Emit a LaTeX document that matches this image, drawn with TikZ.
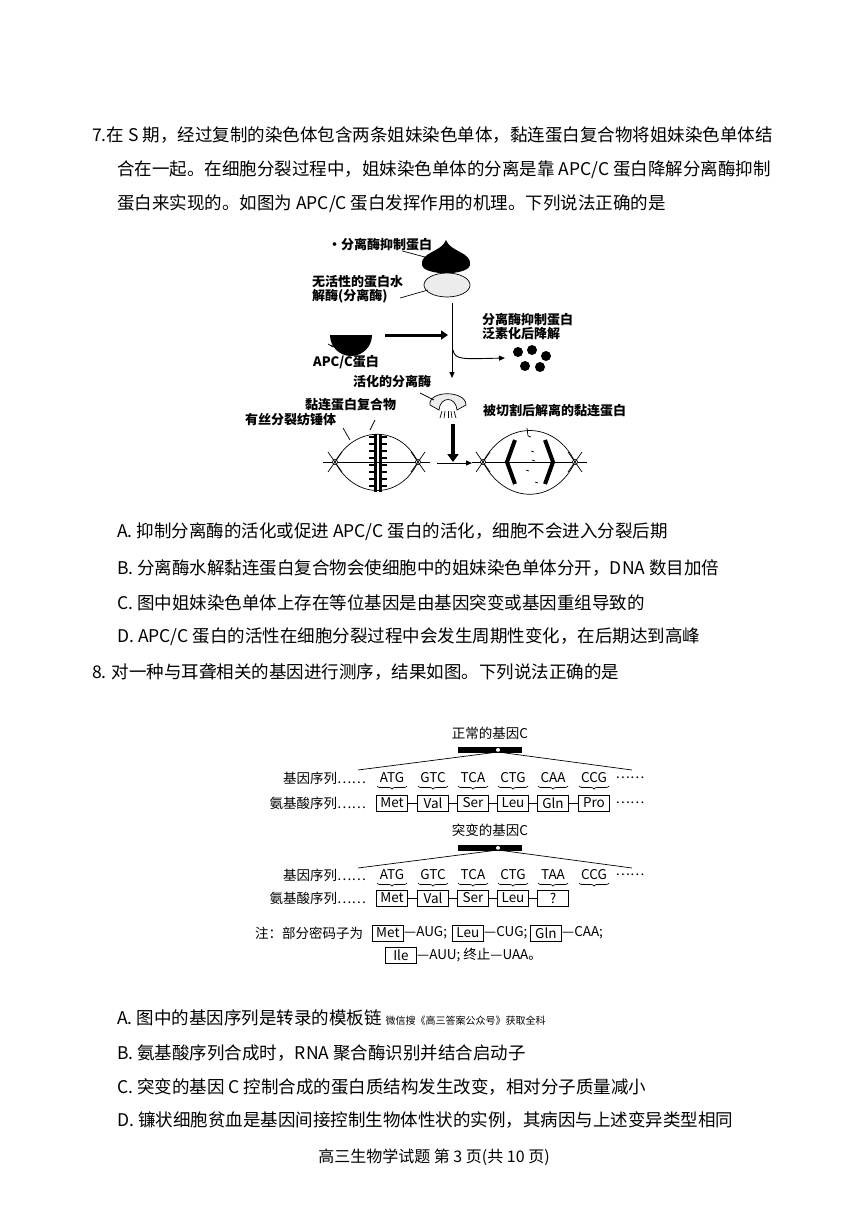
\documentclass[tikz,border=0pt]{standalone}
\usepackage{fontspec}
\setmainfont{Noto Sans CJK SC}
\usetikzlibrary{decorations.pathreplacing,arrows.meta}
\begin{document}
\begin{tikzpicture}[x=1pt,y=-1pt,
 body/.style={anchor=west,inner sep=0pt,font=\fontsize{17.5}{18}\selectfont},
 lbl/.style={inner sep=0pt,font=\fontsize{13}{14}\selectfont\bfseries},
 dlbl/.style={inner sep=0pt,font=\fontsize{13.5}{14}\selectfont},
 aa/.style={draw,line width=0.8pt,minimum width=31pt,minimum height=16pt,inner sep=0pt,font=\fontsize{13.5}{14}\selectfont},
 cod/.style={inner sep=0pt,font=\fontsize{13.5}{14}\selectfont},
 br/.style={decorate,decoration={brace,mirror,amplitude=3pt}},
 thin/.style={line width=0.7pt},
 fat/.style={line width=3pt,-{Triangle[length=7pt,width=9pt]}},
 arr/.style={line width=0.9pt,-{Triangle[length=6pt,width=5pt]}}]
\useasboundingbox (0,0) rectangle (868,1227);
\fill[white] (0,0) rectangle (868,1227);
% question 7
\node[body] (q1) at (92,135) {7.在 S 期，经过复制的染色体包含两条姐妹染色单体，黏连蛋白复合物将姐妹染色单体结};
\node[body] (q2) at (117,170) {合在一起。在细胞分裂过程中，姐妹染色单体的分离是靠 APC/C 蛋白降解分离酶抑制};
\node[body] (q3) at (117,204) {蛋白来实现的。如图为 APC/C 蛋白发挥作用的机理。下列说法正确的是};
% diagram 1
\node[lbl,anchor=west] (l1) at (328,245) {·分离酶抑制蛋白};
\fill (446,240) .. controls (450,252) and (472,252) .. (470,265) .. controls (468,276) and (424,276) .. (422,265) .. controls (420,252) and (442,252) .. (446,240) -- cycle;
\draw[thin,fill=gray!15] (447,285) ellipse (23pt and 12pt);
\coordinate (inh) at (436,260);
\draw[thin] (l1.east) ++(-30,6) -- (inh);
\node[lbl,align=left,anchor=west] (l2) at (312,289) {无活性的蛋白水\\解酶(分离酶)};
\draw[thin] (400,298) -- (428,290);
\fill (330,335) arc[start angle=180,end angle=0,radius=21] -- cycle;
\fill (330,335) .. controls (335,346) and (366,346) .. (372,335);
\foreach \i in {0,1,2,3}{\draw[thin] (328+\i*3,344+\i) -- (333+\i*3,347+\i);}
\node[lbl,anchor=west] (l3) at (313,362) {APC/C蛋白};
\draw[fat] (385,335) -- (448,335);
\draw[arr] (452,303) -- (452,378);
\draw[arr] (453,350) .. controls (455,360) and (462,359) .. (505,358);
\foreach \p in {(518,352),(532,350),(546,356),(525,366),(540,367)}{\fill \p circle (5pt);}
\node[lbl,align=left,anchor=west] (l4) at (482,327) {分离酶抑制蛋白\\泛素化后降解};
\node[lbl,anchor=west] (l5) at (353,382) {活化的分离酶};
\draw[thin,fill=gray!15] (430,405) .. controls (428,390) and (466,390) .. (466,405) -- (457,410) .. controls (456,396) and (440,396) .. (439,410) -- cycle;
\foreach \i in {-2,...,2}{\draw[thin] (448+\i*3,411) -- (448+\i*4,418);}
\draw[thin] (420,393) -- (434,400);
\node[lbl,anchor=west] (l6) at (305,405) {黏连蛋白复合物};
\node[lbl,anchor=west] (l7) at (245,420) {有丝分裂纺锤体};
\node[lbl,anchor=west] (l8) at (483,411) {被切割后解离的黏连蛋白};
\draw[line width=4pt,-{Triangle[length=8pt,width=11pt]}] (453,424) -- (453,462);
% spindle 1
\draw[thin] (335,462) .. controls (355,425) and (400,425) .. (418,462) .. controls (400,500) and (355,500) .. (335,462);
\draw[thin] (323,462) -- (430,462);
\foreach \x in {335,418}{\draw[thin,fill=white] (\x,462) circle (2.5pt); \draw[thin] (\x-7,452)--(\x+7,472) (\x-7,472)--(\x+7,452);}
\fill (374,434) rectangle (377,492); \fill (379,434) rectangle (382,492);
\foreach \y in {437,444,...,490}{\draw[line width=1.4pt] (369,\y)--(374,\y) (382,\y)--(387,\y);}
\draw[thin] (370,430) -- (375,420);
\draw[thin] (343,428) -- (350,440);
\draw[arr] (437,463) -- (472,463);
% spindle 2
\draw[thin] (483,462) .. controls (505,420) and (555,420) .. (575,462) .. controls (555,505) and (505,505) .. (483,462);
\draw[thin] (472,462) -- (587,462);
\foreach \x in {483,575}{\draw[thin,fill=white] (\x,462) circle (2.5pt); \draw[thin] (\x-7,452)--(\x+7,472) (\x-7,472)--(\x+7,452);}
\draw[line width=4pt] (515,440) -- (507,462) -- (515,484);
\draw[line width=4pt] (545,440) -- (553,462) -- (545,484);
\foreach \p in {(528,436),(531,451),(526,470),(535,482),(532,460)}{\draw[thin] \p -- ++(3,1);}
\draw[thin] (527,428) -- (528,436);
% options
\node[body] (o1) at (117,532) {A. 抑制分离酶的活化或促进 APC/C 蛋白的活化，细胞不会进入分裂后期};
\node[body] (o2) at (117,568) {B. 分离酶水解黏连蛋白复合物会使细胞中的姐妹染色单体分开，DNA 数目加倍};
\node[body] (o3) at (117,603) {C. 图中姐妹染色单体上存在等位基因是由基因突变或基因重组导致的};
\node[body] (o4) at (117,637) {D. APC/C 蛋白的活性在细胞分裂过程中会发生周期性变化，在后期达到高峰};
\node[body] (q8) at (92,672) {8. 对一种与耳聋相关的基因进行测序，结果如图。下列说法正确的是};
% diagram 2
\node[dlbl] (t1) at (490,733) {正常的基因C};
\fill (458,747) rectangle (522,753); \fill[white] (498,750) circle (2pt);
\draw[thin] (498,752) -- (358,770); \draw[thin] (498,752) -- (632,770);
\node[dlbl] (t2) at (490,830) {突变的基因C};
\fill (458,845) rectangle (522,851); \fill[white] (498,848) circle (2pt);
\draw[thin] (498,850) -- (358,868); \draw[thin] (498,850) -- (632,868);
\node[dlbl,anchor=east] (g1) at (366,778) {基因序列……};
\node[dlbl,anchor=east] (a1) at (366,803) {氨基酸序列……};
\node[dlbl,anchor=east] (g2) at (366,875) {基因序列……};
\node[dlbl,anchor=east] (a2) at (366,898) {氨基酸序列……};
\node[dlbl] (e1) at (630,778) {……}; \node[dlbl] (e2) at (630,803) {……}; \node[dlbl] (e3) at (630,875) {……};
\foreach \x/\c/\a [count=\k] in {392/ATG/Met,433/GTC/Val,473/TCA/Ser,513/CTG/Leu,553/CAA/Gln,594/CCG/Pro}{
 \node[cod] (c\k) at (\x,778) {\c};
 \draw[br,thin] (\x-15,786) -- (\x+15,786);
 \node[aa] (b\k) at (\x,803) {\a};}
\foreach \i/\j in {1/2,2/3,3/4,4/5,5/6}{\draw[thin] (b\i) -- (b\j);}
\foreach \x/\c/\a [count=\k] in {392/ATG/Met,433/GTC/Val,473/TCA/Ser,513/CTG/Leu,553/TAA/?}{
 \node[cod] (m\k) at (\x,875) {\c};
 \draw[br,thin] (\x-15,883) -- (\x+15,883);
 \node[aa] (n\k) at (\x,898) {\a};}
\node[cod] (m6) at (594,875) {CCG}; \draw[br,thin] (579,883) -- (609,883);
\foreach \i/\j in {1/2,2/3,3/4,4/5}{\draw[thin] (n\i) -- (n\j);}
\node[dlbl,anchor=west] (z1) at (255,933) {注：部分密码子为};
\node[aa,anchor=west] (k1) at (372,933) {Met};
\node[dlbl,anchor=west] (z2) at (404,933) {—AUG;};
\node[aa,anchor=west] (k2) at (452,933) {Leu};
\node[dlbl,anchor=west] (z3) at (484,933) {—CUG;};
\node[aa,anchor=west] (k3) at (530,933) {Gln};
\node[dlbl,anchor=west] (z4) at (562,933) {—CAA;};
\node[aa,anchor=west] (k4) at (385,955) {Ile};
\node[dlbl,anchor=west] (z5) at (417,955) {—AUU; 终止—UAA。};
% options 8
\node[body] (p1) at (117,1018) {A. 图中的基因序列是转录的模板链 \fontsize{10}{10}\selectfont 微信搜《高三答案公众号》获取全科};
\node[body] (p2) at (117,1053) {B. 氨基酸序列合成时，RNA 聚合酶识别并结合启动子};
\node[body] (p3) at (117,1087) {C. 突变的基因 C 控制合成的蛋白质结构发生改变，相对分子质量减小};
\node[body] (p4) at (117,1120) {D. 镰状细胞贫血是基因间接控制生物体性状的实例，其病因与上述变异类型相同};
\node[inner sep=0pt,font=\fontsize{16}{16}\selectfont] (ft) at (434,1157) {高三生物学试题 第 3 页(共 10 页)};
\end{tikzpicture}
\end{document}
